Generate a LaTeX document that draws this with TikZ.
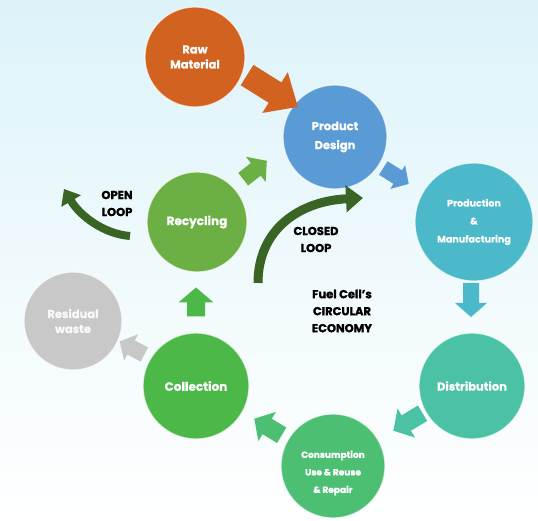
\documentclass[tikz,border=0pt]{standalone}
\usepackage{fontspec}
\setmainfont{Poppins}[BoldFeatures={FakeBold=1.3}]
\usetikzlibrary{arrows.meta}
\definecolor{bgtop}{RGB}{220,243,249}
\definecolor{craw}{RGB}{210,98,32}
\definecolor{cdes}{RGB}{91,155,213}
\definecolor{cprod}{RGB}{75,185,201}
\definecolor{cdist}{RGB}{76,194,164}
\definecolor{ccons}{RGB}{76,191,115}
\definecolor{ccoll}{RGB}{76,184,72}
\definecolor{crec}{RGB}{108,175,69}
\definecolor{cres}{RGB}{200,200,200}
\definecolor{cloop}{RGB}{58,100,36}
\tikzset{
  bubble/.style={circle, draw=white, draw opacity=0.7, line width=1.2pt, inner sep=0pt, text=white, font=\bfseries\fontsize{11.5}{15}\selectfont, align=center},
  lbl/.style={text=black, font=\bfseries\fontsize{11.5}{17}\selectfont, align=center, inner sep=0pt},
  loop/.style={draw=cloop, line width=9pt},
  pics/barrow/.style n args={4}{code={
    \path[pic actions] (-#1/2,-#3) -- (#1/2-#2,-#3) -- (#1/2-#2,-#4) -- (#1/2,0)
      -- (#1/2-#2,#4) -- (#1/2-#2,#3) -- (-#1/2,#3) -- cycle;}}
}
\begin{document}
\begin{tikzpicture}[x=1pt,y=1pt]
\shade[top color=bgtop, bottom color=white, middle color=bgtop!45] (0,0) rectangle (538,521);
\useasboundingbox (0,0) rectangle (538,521);

% circles
\node[bubble, fill=craw, minimum size=100pt] (raw) at (195,464) {Raw\\Material};
\node[bubble, fill=cdes, minimum size=104pt, font=\bfseries\fontsize{11.5}{19}\selectfont] (des) at (335,384) {Product\\Design};
\node[bubble, fill=cprod, minimum size=118pt, font=\bfseries\fontsize{9.5}{18}\selectfont] (prod) at (474,299) {Production\\\&\\Manufacturing};
\node[bubble, fill=crec, minimum size=100pt, font=\bfseries\fontsize{12}{15}\selectfont] (rec) at (197,299) {Recycling};
\node[bubble, fill=cres, minimum size=98pt, text=white!95!gray] (res) at (73,200) {Residual\\waste};
\node[bubble, fill=ccoll, minimum size=106pt, font=\bfseries\fontsize{12}{15}\selectfont] (coll) at (196,135) {Collection};
\node[bubble, fill=cdist, minimum size=106pt, font=\bfseries\fontsize{11.5}{15}\selectfont] (dist) at (472,135) {Distribution};
\node[bubble, fill=ccons, minimum size=104pt] (cons) at (333,55) {};
\node[text=white, font=\bfseries\fontsize{9}{17.5}\selectfont, align=center, inner sep=0pt] (consT) at ([yshift=-7pt]cons.center) {Consumption\\Use \& Reuse\\\& Repair};

% block arrows
\coordinate (a1) at (272.5,430);
\coordinate (a2) at (396,345);
\coordinate (a3) at (471,221);
\coordinate (a4) at (408,99);
\coordinate (a5) at (268,94);
\coordinate (a6) at (132,173);
\coordinate (a7) at (196,219);
\coordinate (a8) at (255,351);
\pic[fill=craw, rotate=-32] at (a1) {barrow={60}{27}{12}{24}};
\pic[fill=cdes, rotate=-32] at (a2) {barrow={30}{13}{8}{14}};
\pic[fill=cprod, rotate=-90] at (a3) {barrow={34}{14}{8}{16}};
\pic[fill=cdist, rotate=211] at (a4) {barrow={34}{15}{9}{17}};
\pic[fill=ccons, rotate=149] at (a5) {barrow={32}{15}{9}{17}};
\pic[fill=cres, rotate=152] at (a6) {barrow={28}{13}{8}{15}};
\pic[fill=ccoll, rotate=90] at (a7) {barrow={29}{15}{9}{17.5}};
\pic[fill=crec, rotate=38] at (a8) {barrow={30}{14}{8}{16}};

% loops
\coordinate (cls) at (258,238);
\coordinate (cle) at (363,323);
\draw[loop, -{Triangle[width=26pt,length=17pt]}] (cls) .. controls (258,292) and (300,320) .. (cle);
\coordinate (ops) at (130,285);
\coordinate (ope) at (64,332);
\draw[loop, line width=8pt, -{Triangle[width=22pt,length=14pt]}] (ops) .. controls (104,287) and (80,305) .. (ope);

% labels
\node[lbl] (open) at (117,317.5) {OPEN\\LOOP};
\node[lbl] (closed) at (316,281.5) {CLOSED\\LOOP};
\node[lbl] (fc) at (342,210) {Fuel Cell's\\CIRCULAR\\ECONOMY};
\end{tikzpicture}
\end{document}
